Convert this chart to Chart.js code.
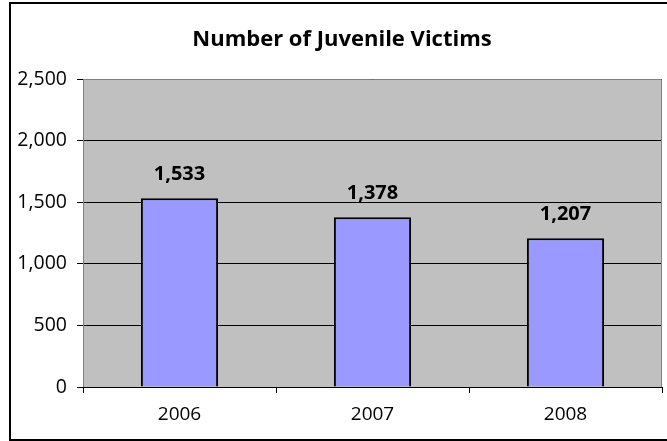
<!DOCTYPE html>
<html>
<head>
<meta charset="utf-8">
<script src="https://cdn.jsdelivr.net/npm/chart.js@4"></script>
<style>
  html, body { margin: 0; padding: 0; background: #fff; }
  #wrap { position: relative; width: 667px; height: 441px; }
  #frame { position: absolute; left: 9px; top: 2px; width: 670px; height: 435px; border: 2px solid #000; box-sizing: content-box; pointer-events: none; }
  canvas { position: absolute; left: 0; top: 0; }
</style>
</head>
<body>
<div id="wrap">
  <canvas id="chart" width="667" height="441"></canvas>
  <div id="frame"></div>
</div>
<script>
  const years = ["2006", "2007", "2008"];
  const victims = [1533, 1378, 1207];
  const yTicks = [0, 500, 1000, 1500, 2000, 2500];
  const chartTitle = "Number of Juvenile Victims";

  const fontFamily = "'Open Sans', 'DejaVu Sans', sans-serif";

  function formatNumber(n) {
    return new Intl.NumberFormat("en-US").format(n);
  }

  const plotBg = {
    id: "plotBg",
    beforeDraw(chart) {
      const { ctx, chartArea: a } = chart;
      ctx.save();
      ctx.fillStyle = "#c0c0c0";
      ctx.fillRect(a.left, a.top, a.right - a.left, a.bottom - a.top);
      ctx.restore();
    },
    afterDraw(chart) {
      const { ctx, chartArea: a } = chart;
      ctx.save();
      ctx.strokeStyle = "#808080";
      ctx.lineWidth = 1;
      ctx.beginPath();
      ctx.moveTo(a.left + 0.5, a.bottom);
      ctx.lineTo(a.left + 0.5, a.top + 0.5);
      ctx.lineTo(a.right - 0.5, a.top + 0.5);
      ctx.lineTo(a.right - 0.5, a.bottom);
      ctx.stroke();
      ctx.strokeStyle = "#000";
      ctx.beginPath();
      ctx.moveTo(a.left, a.bottom + 0.5);
      ctx.lineTo(a.right, a.bottom + 0.5);
      ctx.stroke();
      // title
      ctx.fillStyle = "#000";
      ctx.font = "bold 22px " + fontFamily;
      ctx.textAlign = "center";
      ctx.textBaseline = "middle";
      ctx.fillText(chartTitle, 342, 40);
      ctx.restore();
    }
  };

  const barLabels = {
    id: "barLabels",
    afterDatasetsDraw(chart) {
      const { ctx } = chart;
      const meta = chart.getDatasetMeta(0);
      ctx.save();
      ctx.fillStyle = "#000";
      ctx.font = "bold 20px " + fontFamily;
      ctx.textAlign = "center";
      ctx.textBaseline = "middle";
      meta.data.forEach((bar, i) => {
        ctx.fillText(formatNumber(victims[i]), bar.x, bar.y - 24);
      });
      ctx.restore();
    }
  };

  new Chart(document.querySelector("#chart").getContext("2d"), {
    type: "bar",
    data: {
      labels: years,
      datasets: [
        {
          label: chartTitle,
          data: victims,
          backgroundColor: "#9999ff",
          borderColor: "#000",
          borderWidth: 2,
          barPercentage: 0.4,
          categoryPercentage: 1,
        },
      ],
    },
    options: {
      responsive: false,
      animation: false,
      devicePixelRatio: 1,
      layout: { padding: { top: 79, left: 0, right: 5, bottom: 0 } },
      plugins: {
        legend: { display: false },
        tooltip: { enabled: false },
      },
      scales: {
        x: {
          grid: {
            offset: true,
            drawOnChartArea: false,
            tickLength: 6,
            color: "#000",
          },
          border: { color: "#000" },
          ticks: {
            color: "#000",
            font: { family: fontFamily, size: 19 },
            padding: 10,
          },
          afterFit(s) { s.height = 54; },
        },
        y: {
          min: 0,
          max: 2500,
          afterBuildTicks(s) { s.ticks = yTicks.map((v) => ({ value: v })); },
          grid: { color: "#000", tickLength: 6 },
          border: { color: "#808080" },
          ticks: {
            color: "#000",
            font: { family: fontFamily, size: 19.5 },
            padding: 10,
            callback: (v) => formatNumber(v),
          },
          afterFit(s) { s.width = 83; },
        },
      },
    },
    plugins: [plotBg, barLabels],
  });
</script>
</body>
</html>
